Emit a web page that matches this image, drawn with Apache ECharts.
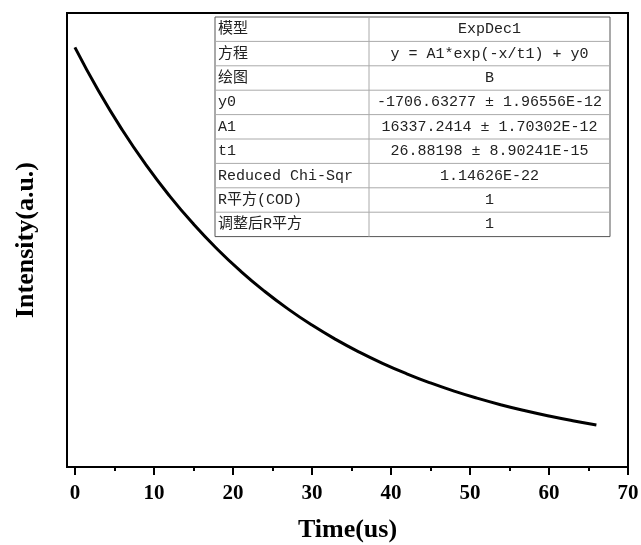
<!DOCTYPE html>
<html>
<head>
<meta charset="utf-8">
<script src="https://cdn.jsdelivr.net/npm/echarts@6/dist/echarts.min.js"></script>
<style>
  html, body { margin: 0; padding: 0; background: #fff; }
  #chart { width: 641px; height: 545px; }
</style>
</head>
<body>
<div id="chart"></div>
<script>
  // values
  const timeUs = [0, 3, 6, 9, 12, 15, 18, 21, 24, 27, 30, 33, 36, 39, 42, 45, 48, 51, 54, 57, 60, 63, 66]
  const intensity = [14631, 12905, 11362, 9982, 8747, 7643, 6656, 5773, 4983, 4276, 3644, 3079, 2574, 2122, 1717, 1356, 1032, 743, 484, 253, 46, -139, -305]
  const xTicks = [0, 10, 20, 30, 40, 50, 60, 70]
  const xMinorTicks = [5, 15, 25, 35, 45, 55, 65]
  const tableKeys = ['模型', '方程', '绘图', 'y0', 'A1', 't1', 'Reduced Chi-Sqr', 'R平方(COD)', '调整后R平方']
  const tableValues = ['ExpDec1', 'y = A1*exp(-x/t1) + y0', 'B', '-1706.63277 ± 1.96556E-12',
    '16337.2414 ± 1.70302E-12', '26.88198 ± 8.90241E-15', '1.14626E-22', '1', '1']

  let chart = echarts.init(document.getElementById('chart'))

  let seriesData = []
  timeUs.forEach((t, i) => {
    seriesData.push([t, intensity[i]])
  })

  // fit result table
  let tbl = { left: 215, right: 610, top: 17, rowH: 24.4, col: 369 }
  let tableFont = '15px "Liberation Mono", "Noto Sans CJK SC"'
  let graphics = [{
    type: 'rect',
    shape: { x: tbl.left, y: tbl.top, width: tbl.right - tbl.left, height: tbl.rowH * tableKeys.length },
    style: { fill: '#fff', stroke: '#555', lineWidth: 1 },
    z: 100
  }, {
    type: 'line',
    shape: { x1: tbl.col, y1: tbl.top, x2: tbl.col, y2: tbl.top + tbl.rowH * tableKeys.length },
    style: { stroke: '#aaa', lineWidth: 1 },
    z: 101
  }]
  tableKeys.forEach((k, i) => {
    let yc = tbl.top + tbl.rowH * (i + 0.5)
    if (i > 0) {
      graphics.push({
        type: 'line',
        shape: { x1: tbl.left, y1: tbl.top + tbl.rowH * i, x2: tbl.right, y2: tbl.top + tbl.rowH * i },
        style: { stroke: '#aaa', lineWidth: 1 },
        z: 101
      })
    }
    graphics.push({
      type: 'text', x: tbl.left + 3, y: yc, z: 102,
      style: { text: k, fill: '#222', font: tableFont, textAlign: 'left', textVerticalAlign: 'middle' }
    })
    graphics.push({
      type: 'text', x: (tbl.col + tbl.right) / 2, y: yc, z: 102,
      style: { text: tableValues[i], fill: '#222', font: tableFont, textAlign: 'center', textVerticalAlign: 'middle' }
    })
  })

  let option = {
    animation: false,
    grid: {
      left: 67, right: 13, top: 13, bottom: 78,
      outerBoundsMode: 'none',
      show: true, borderColor: '#000', borderWidth: 2
    },
    xAxis: [{
      type: 'value', min: -1, max: 70, position: 'bottom', offset: 0,
      name: 'Time(us)', nameLocation: 'middle', nameGap: 50,
      nameTextStyle: { fontFamily: 'Liberation Serif', fontWeight: 'bold', fontSize: 26, color: '#000' },
      axisLine: { onZero: false, lineStyle: { color: '#000', width: 2 } },
      axisTick: { show: true, inside: false, customValues: xTicks, length: 8, lineStyle: { color: '#000', width: 2 } },
      axisLabel: { customValues: xTicks, margin: 16, fontFamily: 'Liberation Serif', fontWeight: 'bold', fontSize: 21, color: '#000' },
      splitLine: { show: false }
    }, {
      type: 'value', min: -1, max: 70, position: 'bottom', offset: 0,
      axisLine: { show: false, onZero: false },
      axisTick: { show: true, inside: false, customValues: xMinorTicks, length: 4, lineStyle: { color: '#000', width: 2 } },
      axisLabel: { show: false },
      splitLine: { show: false }
    }],
    yAxis: {
      type: 'value', min: -1970, max: 15990,
      name: 'Intensity(a.u.)', nameLocation: 'middle', nameGap: 28,
      nameTextStyle: { fontFamily: 'Liberation Serif', fontWeight: 'bold', fontSize: 26, color: '#000' },
      axisLine: { show: true, onZero: false, lineStyle: { color: '#000', width: 2 } },
      axisTick: { show: false },
      axisLabel: { show: false },
      splitLine: { show: false }
    },
    series: [{
      type: 'line',
      data: seriesData,
      smooth: true,
      symbol: 'none',
      lineStyle: { color: '#000', width: 3 }
    }],
    graphic: graphics
  }
  chart.setOption(option)
</script>
</body>
</html>
